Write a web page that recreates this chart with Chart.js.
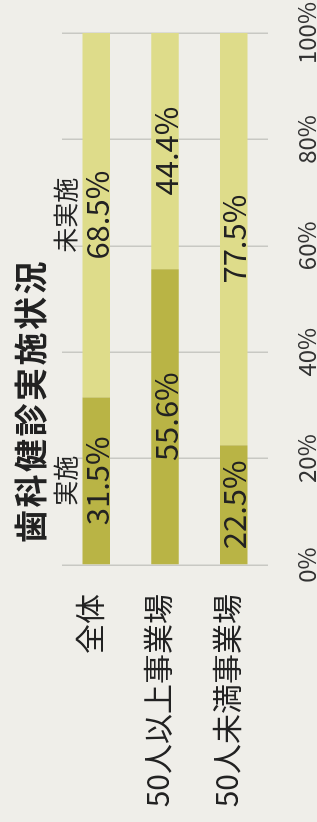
<!DOCTYPE html>
<html>
<head>
<meta charset="utf-8">
<script src="https://cdn.jsdelivr.net/npm/chart.js@4.4.1/dist/chart.umd.min.js"></script>
<style>
  html, body { margin: 0; padding: 0; width: 317px; height: 822px; overflow: hidden; background: #efeee9; }
  #rot { position: absolute; left: 0; top: 0; width: 822px; height: 317px;
         transform-origin: 0 0; transform: translate(0, 822px) rotate(-90deg); }
  #title { position: absolute; left: 279px; top: 8px; font-family: "Noto Sans CJK JP"; font-weight: bold;
           font-size: 33px; letter-spacing: 2.5px; color: #222; line-height: 42px; white-space: nowrap; }
  canvas { position: absolute; left: 0; top: 0; }
</style>
</head>
<body>
<div id="rot">
  <canvas id="c" width="822" height="317"></canvas>
  <div id="title">歯科健診実施状況</div>
</div>
<script>
const titleText = "歯科健診実施状況";
const categories = ["全体", "50人以上事業場", "50人未満事業場"];
const seriesNames = ["実施", "未実施"];
const implemented = [31.5, 55.6, 22.5];
const notImplemented = [68.5, 44.4, 77.5];
const tickValues = [0, 20, 40, 60, 80, 100];

const FONT = '"Noto Sans CJK JP", "Noto Sans", sans-serif';

const valueLabels = {
  id: 'valueLabels',
  afterDatasetsDraw(chart) {
    const ctx = chart.ctx;
    ctx.save();
    ctx.textAlign = 'center';
    ctx.textBaseline = 'middle';
    chart.data.datasets.forEach((ds, di) => {
      const meta = chart.getDatasetMeta(di);
      meta.data.forEach((el, i) => {
        const cx = (el.x + el.base) / 2;
        ctx.fillStyle = '#222';
        ctx.font = '31px ' + FONT;
        ctx.fillText(ds.data[i].toFixed(1) + '%', cx, el.y + 1);
        if (i === 0) {
          ctx.font = '25px ' + FONT;
          ctx.fillText(ds.label, cx, el.y - 31);
        }
      });
    });
    ctx.restore();
  }
};

new Chart(document.getElementById('c'), {
  type: 'bar',
  data: {
    labels: categories,
    datasets: [
      { label: seriesNames[0], data: implemented, backgroundColor: '#b9b445' },
      { label: seriesNames[1], data: notImplemented, backgroundColor: '#dedc8a' }
    ]
  },
  options: {
    indexAxis: 'y',
    responsive: false,
    animation: false,
    events: [],
    layout: { padding: { top: 62, right: 33, left: 0, bottom: 0 } },
    datasets: { bar: { categoryPercentage: 1, barPercentage: 0.4 } },
    plugins: { legend: { display: false }, tooltip: { enabled: false } },
    scales: {
      x: {
        stacked: true, min: 0, max: 100,
        afterBuildTicks(axis) { axis.ticks = tickValues.map(v => ({ value: v })); },
        afterFit(axis) { axis.height = 49; axis.paddingLeft = 0; axis.paddingRight = 0; },
        border: { display: false },
        grid: { color: '#c8c8c3', lineWidth: 1.5, drawTicks: false },
        ticks: { padding: 24, color: '#333', font: { family: FONT, size: 24 }, callback: v => v + '%' }
      },
      y: {
        stacked: true,
        afterFit(axis) { axis.width = 257; axis.paddingTop = 0; axis.paddingBottom = 0; },
        border: { display: false },
        grid: { display: false, drawTicks: false },
        ticks: { padding: 29, labelOffset: -7, color: '#222', font: { family: FONT, size: 30 } }
      }
    }
  },
  plugins: [valueLabels]
});
</script>
</body>
</html>
